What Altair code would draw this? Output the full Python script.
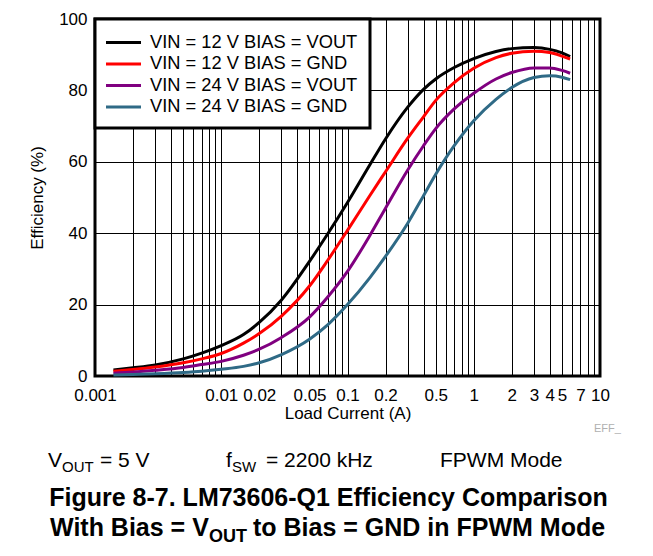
import altair as alt
import pandas as pd

# ---- data ----
current = [0.0014, 0.002, 0.003, 0.005, 0.007, 0.01, 0.015, 0.02, 0.03, 0.05, 0.07,
           0.1, 0.15, 0.2, 0.3, 0.4, 0.5, 0.7, 1, 1.5, 2, 3, 4, 5, 5.8]
eff_12_vout = [1.7, 2.3, 3.1, 4.8, 6.4, 8.5, 11.6, 15.0, 21.3, 32.1, 39.9,
               48.6, 59.1, 66.4, 75.3, 80.3, 83.2, 86.4, 88.9, 90.9, 91.7, 92.0, 91.5, 90.5, 89.5]
eff_12_gnd = [1.3, 1.8, 2.5, 3.7, 4.8, 6.3, 9.2, 11.9, 16.8, 25.2, 32.5,
              40.8, 50.5, 57.2, 66.6, 72.6, 77.2, 82.2, 86.2, 89.2, 90.4, 91.0, 90.6, 89.6, 88.8]
eff_24_vout = [0.8, 1.1, 1.6, 2.4, 3.2, 4.1, 5.8, 7.5, 10.8, 16.5, 22.2,
               29.3, 39.3, 47.0, 57.7, 64.5, 69.3, 74.8, 79.2, 83.2, 85.0, 86.3, 86.3, 85.6, 84.8]
eff_24_gnd = [0.3, 0.45, 0.65, 1.0, 1.35, 1.9, 2.7, 3.7, 6.0, 10.3, 14.4,
              20.0, 27.5, 33.5, 42.8, 50.5, 56.5, 64.5, 71.5, 77.5, 80.8, 83.6, 84.1, 83.7, 83.0]

series_names = ["VIN = 12 V BIAS = VOUT", "VIN = 12 V BIAS = GND",
                "VIN = 24 V BIAS = VOUT", "VIN = 24 V BIAS = GND"]
series_values = [eff_12_vout, eff_12_gnd, eff_24_vout, eff_24_gnd]
series_colors = ["#000000", "#ff0000", "#800080", "#2f6a86"]

x_grid_values = [0.001, 0.002, 0.003, 0.004, 0.005, 0.006, 0.007, 0.008, 0.009,
                 0.01, 0.02, 0.03, 0.04, 0.05, 0.06, 0.07, 0.08, 0.09,
                 0.1, 0.2, 0.3, 0.4, 0.5, 0.6, 0.7, 0.8, 0.9,
                 1, 2, 3, 4, 5, 6, 7, 8, 9, 10]
x_label_values = [0.001, 0.01, 0.02, 0.05, 0.1, 0.2, 0.5, 1, 2, 3, 4, 5, 7, 10]
y_values = [0, 20, 40, 60, 80, 100]

FONT = "Liberation Sans"

rows = []
for name, vals in zip(series_names, series_values):
    for c, v in zip(current, vals):
        rows.append({"current": c, "eff": v, "series": name})
df = pd.DataFrame(rows)

label_list = "[" + ",".join(repr(v) for v in x_label_values) + "]"

lines = alt.Chart(df).mark_line(strokeWidth=3, interpolate="monotone").encode(
    x=alt.X("current:Q",
            scale=alt.Scale(type="log", domain=[0.001, 10], nice=False),
            axis=alt.Axis(title="Load Current (A)", values=x_grid_values,
                          labelExpr="indexof(" + label_list + ", datum.value) >= 0 ? format(datum.value, '~g') : ''",
                          labelOverlap=False, labelFlush=False, ticks=False, domain=False,
                          grid=True, gridColor="#000000", gridWidth=1,
                          labelPadding=11, titlePadding=2)),
    y=alt.Y("eff:Q",
            scale=alt.Scale(domain=[0, 100], nice=False),
            axis=alt.Axis(title="Efficiency (%)", values=y_values, ticks=False, domain=False,
                          grid=True, gridColor="#000000", gridWidth=1,
                          labelPadding=8, titlePadding=12)),
    color=alt.Color("series:N",
                    scale=alt.Scale(domain=series_names, range=series_colors),
                    sort=series_names,
                    legend=alt.Legend(title=None, orient="none", legendX=0, legendY=0,
                                      symbolType="M-1.75,0H1.75", symbolStrokeWidth=3,
                                      symbolSize=400, symbolOffset=5,
                                      labelFontSize=18.3, labelLimit=400,
                                      rowPadding=1.5, padding=12, labelOffset=15,
                                      fillColor="white", strokeColor="black")),
)

one = pd.DataFrame({"k": [0]})


def txt(text, x, y, size, align="left", weight="normal", color="black"):
    return alt.Chart(one).mark_text(text=text, align=align, baseline="alphabetic",
                                    fontSize=size, fontWeight=weight, font=FONT,
                                    color=color).encode(x=alt.value(x), y=alt.value(y))


# page coords -> plot coords: px = X - 95, py = Y - 19
notes = [
    txt("V", 48 - 95, 467 - 19, 21),
    txt("OUT", 62 - 95, 472 - 19, 15),
    txt("= 5 V", 100 - 95, 467 - 19, 21),
    txt("f", 226 - 95, 467 - 19, 21),
    txt("SW", 232 - 95, 472 - 19, 15),
    txt("= 2200 kHz", 266 - 95, 467 - 19, 21),
    txt("FPWM Mode", 440 - 95, 467 - 19, 21),
    txt("Figure 8-7. LM73606-Q1 Efficiency Comparison", 328.5 - 95, 506 - 19, 25,
        align="center", weight="bold"),
    txt("With Bias = V", 50 - 95, 536 - 19, 25, weight="bold"),
    txt("OUT", 209 - 95, 542 - 19, 18, weight="bold"),
    txt("to Bias = GND in FPWM Mode", 253 - 95, 536 - 19, 25, weight="bold"),
    txt("EFF_", 594 - 95, 432 - 19, 11, color="#b0b0b0"),
]

chart = alt.layer(lines, *notes).properties(
    width=505, height=357,
    autosize=alt.AutoSizeParams(type="none"),
    padding={"left": 87, "top": 11, "right": 45, "bottom": 172},
).configure_view(
    stroke="black", strokeWidth=3
).configure_axis(
    labelFont=FONT, titleFont=FONT, labelFontSize=17, titleFontSize=17,
    labelColor="black", titleColor="black", titleFontWeight="normal"
).configure_legend(
    labelFont=FONT, labelColor="black", strokeWidth=3
)

chart.save("out.html", embed_options={"renderer": "svg", "actions": False})
